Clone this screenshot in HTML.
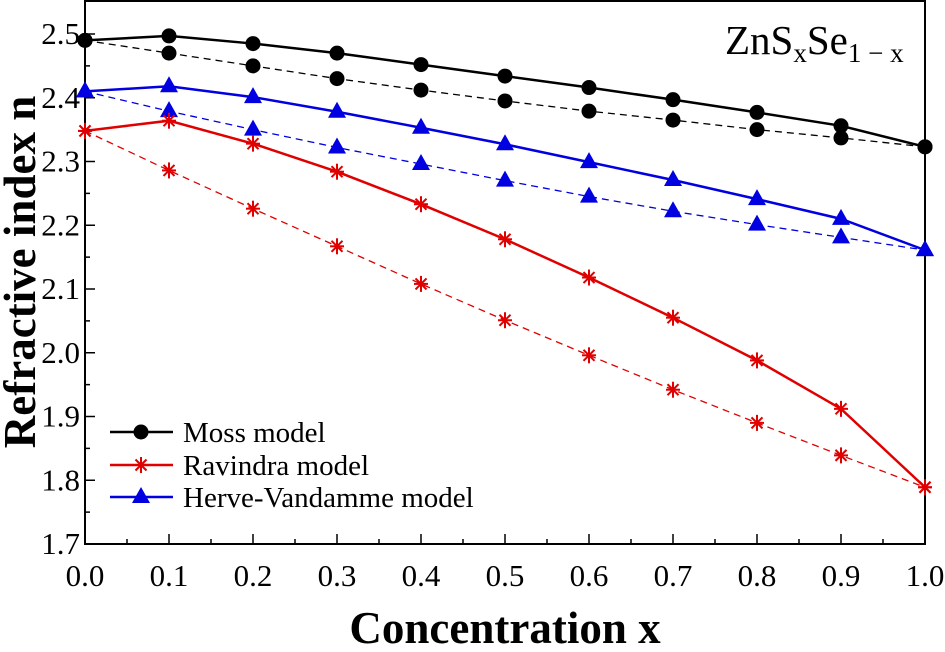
<!DOCTYPE html>
<html><head><meta charset="utf-8"><style>
body{margin:0;background:#fff}
svg text{font-family:"Liberation Serif",serif}
</style></head><body>
<svg id="chart" width="945" height="647" xmlns="http://www.w3.org/2000/svg">
<rect x="85" y="1" width="840" height="543" fill="#fff" stroke="#000" stroke-width="2"/>
<g id="axes"></g><g id="series"></g>
<text x="725" y="54" font-size="41">ZnS<tspan font-size="27" dy="8">x</tspan><tspan dy="-8">Se</tspan><tspan font-size="27" dy="8">1 − x</tspan></text>
<text transform="translate(35,272) rotate(-90)" text-anchor="middle" font-size="45" font-weight="bold">Refractive index n</text>
<text x="505" y="643" text-anchor="middle" font-size="45" font-weight="bold">Concentration x</text>
<g id="legend"></g>
</svg>
<script>
const xs=[0,0.1,0.2,0.3,0.4,0.5,0.6,0.7,0.8,0.9,1.0];
const mossSolid=[2.49,2.497,2.485,2.47,2.452,2.434,2.416,2.397,2.377,2.356,2.323];
const mossDash=[2.49,2.47,2.45,2.43,2.412,2.395,2.379,2.365,2.35,2.337,2.323];
const herveSolid=[2.41,2.418,2.401,2.378,2.353,2.327,2.299,2.271,2.241,2.21,2.161];
const herveDash=[2.41,2.379,2.35,2.322,2.296,2.27,2.245,2.222,2.201,2.181,2.161];
const ravSolid=[2.348,2.364,2.328,2.284,2.233,2.178,2.118,2.055,1.988,1.912,1.789];
const ravDash=[2.348,2.286,2.226,2.167,2.108,2.051,1.996,1.942,1.89,1.839,1.789];
const xTicks=["0.0","0.1","0.2","0.3","0.4","0.5","0.6","0.7","0.8","0.9","1.0"];
const yTicks=["1.7","1.8","1.9","2.0","2.1","2.2","2.3","2.4","2.5"];
const NS="http://www.w3.org/2000/svg";
const X=v=>85+v*840, Y=v=>544-(v-1.7)*637.5;
function mk(t,a,p){const e=document.createElementNS(NS,t);for(const k in a)e.setAttribute(k,a[k]);p.appendChild(e);return e;}
const ax=document.getElementById('axes');
xTicks.forEach((t,i)=>{const v=parseFloat(t);const x=X(v);
 const l=mk('line',{x1:x,x2:x,y1:544,y2:534,stroke:'#000','stroke-width':1.5},ax);
 
 if(i<xTicks.length-1){const m=mk('line',{x1:X(v+0.05),x2:X(v+0.05),y1:544,y2:539,stroke:'#000','stroke-width':1.5},ax);}
 const tx=mk('text',{x:x,y:586,'text-anchor':'middle','font-size':31},ax);tx.textContent=t;
 });
yTicks.forEach((t,i)=>{const v=parseFloat(t);const y=Y(v);
 const l=mk('line',{x1:85,x2:95,y1:y,y2:y,stroke:'#000','stroke-width':1.5},ax);
 
 if(i<yTicks.length-1){const m=mk('line',{x1:85,x2:90,y1:Y(v+0.05),y2:Y(v+0.05),stroke:'#000','stroke-width':1.5},ax);}
 const tx=mk('text',{x:80,y:y+10,'text-anchor':'end','font-size':31},ax);tx.textContent=t;
 });
function marker(type,x,y,c,g){
 if(type==='circle')return mk('circle',{cx:x,cy:y,r:7.5,fill:c},g);
 if(type==='tri')return mk('polygon',{points:`${x},${y-10} ${x-9},${y+6} ${x+9},${y+6}`,fill:c},g);
 const s=mk('g',{stroke:c,'stroke-width':2},g);
 [[-7,0,7,0],[0,-8,0,8],[-5.5,-5.5,5.5,5.5],[-5.5,5.5,5.5,-5.5]].forEach(d=>mk('line',{x1:x+d[0],y1:y+d[1],x2:x+d[2],y2:y+d[3]},s));return s;}
const sg=document.getElementById('series');
function series(vals,c,dash,type,name){
 const g=mk('g',{},sg);
 mk('polyline',{points:vals.map((v,i)=>X(xs[i])+','+Y(v)).join(' '),fill:'none',stroke:c,'stroke-width':dash?1.3:2.5,'stroke-dasharray':dash?'7,5':'none'},g);
 vals.forEach((v,i)=>{const m=marker(type,X(xs[i]),Y(v),c,g);});}
series(mossDash,'#000',true,'circle','moss-dashed-series');
series(mossSolid,'#000',false,'circle','moss-series');
series(herveDash,'#0000e0',true,'tri','herve-dashed-series');
series(herveSolid,'#0000e0',false,'tri','herve-series');
series(ravDash,'#e00000',true,'star','ravindra-dashed-series');
series(ravSolid,'#e00000',false,'star','ravindra-series');
const lg=document.getElementById('legend');
[['Moss model','#000','circle',432],['Ravindra model','#e00000','star',465],['Herve-Vandamme model','#0000e0','tri',497]].forEach(r=>{
 const g=mk('g',{},lg);
 mk('line',{x1:110,x2:173,y1:r[3],y2:r[3],stroke:r[1],'stroke-width':2.5},g);
 marker(r[2],141,r[3],r[1],g);
 const t=mk('text',{x:183,y:r[3]+10,'font-size':29},g);t.textContent=r[0];});
</script>
</body></html>
